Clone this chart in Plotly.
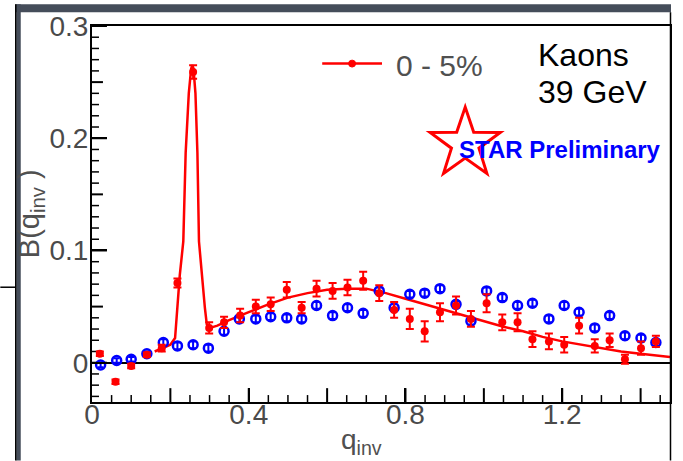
import math
import plotly.graph_objects as go

# ---- data -------------------------------------------------------------
# 0-5% centrality, kaons at 39 GeV
red_q = [0.020, 0.060, 0.100, 0.140, 0.178, 0.218, 0.258, 0.299, 0.337, 0.378,
         0.418, 0.456, 0.497, 0.535, 0.573, 0.614, 0.652, 0.692, 0.733, 0.771,
         0.811, 0.849, 0.888, 0.929, 0.967, 1.007, 1.047, 1.086, 1.124, 1.166,
         1.205, 1.243, 1.283, 1.321, 1.360, 1.401, 1.439]
red_b = [0.008, -0.017, -0.003, 0.007, 0.013, 0.071, 0.259, 0.031, 0.036, 0.042,
         0.050, 0.052, 0.065, 0.049, 0.066, 0.064, 0.067, 0.073, 0.062, 0.047,
         0.039, 0.028, 0.045, 0.051, 0.039, 0.053, 0.036, 0.036, 0.021, 0.019,
         0.016, 0.033, 0.015, 0.020, 0.003, 0.013, 0.019]
red_err = [0.002, 0.002, 0.002, 0.002, 0.003, 0.004, 0.006, 0.005, 0.005, 0.006,
           0.006, 0.006, 0.007, 0.005, 0.007, 0.007, 0.007, 0.008, 0.007, 0.007,
           0.009, 0.009, 0.008, 0.008, 0.007, 0.008, 0.007, 0.008, 0.007, 0.007,
           0.007, 0.007, 0.006, 0.006, 0.004, 0.006, 0.005]

blue_q = [0.022, 0.063, 0.100, 0.140, 0.182, 0.218, 0.258, 0.297, 0.337, 0.376,
          0.418, 0.456, 0.497, 0.535, 0.573, 0.614, 0.652, 0.692, 0.733, 0.771,
          0.811, 0.849, 0.888, 0.929, 0.967, 1.007, 1.047, 1.086, 1.124, 1.166,
          1.205, 1.243, 1.283, 1.321, 1.360, 1.401, 1.439]
blue_b = [-0.002, 0.002, 0.003, 0.008, 0.018, 0.015, 0.016, 0.013, 0.028, 0.039,
          0.039, 0.041, 0.040, 0.039, 0.051, 0.042, 0.049, 0.044, 0.064, 0.049,
          0.061, 0.062, 0.066, 0.052, 0.037, 0.064, 0.058, 0.051, 0.053, 0.039,
          0.051, 0.045, 0.031, 0.042, 0.024, 0.022, 0.018]
blue_err = [0.002, 0.002, 0.002, 0.002, 0.003, 0.003, 0.003, 0.003, 0.003, 0.003,
            0.003, 0.003, 0.003, 0.003, 0.003, 0.003, 0.003, 0.003, 0.003, 0.003,
            0.003, 0.003, 0.003, 0.003, 0.003, 0.003, 0.003, 0.003, 0.003, 0.003,
            0.003, 0.003, 0.003, 0.003, 0.003, 0.003, 0.003]

# fit curve for the 0-5% data
fit_q = [0.160, 0.180, 0.200, 0.212, 0.218, 0.224, 0.233, 0.239, 0.247, 0.253,
         0.256, 0.259, 0.264, 0.269, 0.273, 0.280, 0.288, 0.293, 0.301, 0.320,
         0.350, 0.400, 0.450, 0.500, 0.550, 0.600, 0.650, 0.700, 0.750, 0.800,
         0.850, 0.900, 0.950, 1.000, 1.050, 1.100, 1.150, 1.200, 1.250, 1.300,
         1.350, 1.400, 1.475]
fit_b = [0.010, 0.013, 0.016, 0.022, 0.049, 0.078, 0.108, 0.187, 0.240, 0.262,
         0.265, 0.262, 0.240, 0.187, 0.108, 0.078, 0.049, 0.034, 0.031, 0.033,
         0.038, 0.045, 0.052, 0.058, 0.062, 0.065, 0.066, 0.066, 0.062, 0.057,
         0.052, 0.047, 0.042, 0.037, 0.032, 0.028, 0.023, 0.019, 0.016, 0.013,
         0.010, 0.008, 0.005]

# labelled ticks
y_tickvals = [0.0, 0.1, 0.2, 0.3]
y_ticktext = ["0", "0.1", "0.2", "0.3"]
x_tickvals = [0.0, 0.4, 0.8, 1.2]
x_ticktext = ["0", "0.4", "0.8", "1.2"]
# tick marks drawn inside the frame
y_major_ticks = [0.0, 0.1, 0.2, 0.3]
y_mid_ticks = [0.05, 0.15, 0.25]
y_minor_ticks = [k / 100 for k in range(-3, 31) if k % 5 != 0]
x_major_ticks = [0.2, 0.4, 0.6, 0.8, 1.0, 1.2, 1.4]
x_minor_ticks = [k / 20 for k in range(1, 30) if k % 4 != 0]

X_RANGE = [0, 1.475]
Y_RANGE = [-0.035, 0.3]

# ---- page geometry (pixels) -------------------------------------------
W, H = 683, 461
PL, PR, PT, PB = 92, 672, 22, 402   # plot frame edges
X_PER_PX = (X_RANGE[1] - X_RANGE[0]) / (PR - PL)
Y_PER_PX = (Y_RANGE[1] - Y_RANGE[0]) / (PB - PT)


def px(x):
    return (x - PL) / (PR - PL)


def py(y):
    return (PB - y) / (PB - PT)


FONT = "Liberation Sans, Arial, Helvetica, sans-serif"
RED = "#ff0000"
BLUE = "#0000ff"

fig = go.Figure()


def y_tick_trace(vals, length_px, width):
    xs, ys = [], []
    for v in vals:
        xs += [X_RANGE[0], X_RANGE[0] + length_px * X_PER_PX, None]
        ys += [v, v, None]
    return go.Scatter(x=xs, y=ys, mode="lines", line=dict(color="black", width=width),
                      connectgaps=False, hoverinfo="skip", showlegend=False)


def x_tick_trace(vals, length_px, width):
    xs, ys = [], []
    for v in vals:
        xs += [v, v, None]
        ys += [Y_RANGE[0], Y_RANGE[0] + length_px * Y_PER_PX, None]
    return go.Scatter(x=xs, y=ys, mode="lines", line=dict(color="black", width=width),
                      connectgaps=False, hoverinfo="skip", showlegend=False)


fig.add_trace(y_tick_trace(y_major_ticks, 15, 2))
fig.add_trace(y_tick_trace(y_mid_ticks, 11, 2))
fig.add_trace(y_tick_trace(y_minor_ticks, 7, 1.5))
fig.add_trace(x_tick_trace(x_major_ticks, 14, 2))
fig.add_trace(x_tick_trace(x_minor_ticks, 7, 1.5))

fig.add_trace(go.Scatter(
    x=fit_q, y=fit_b, mode="lines",
    line=dict(color=RED, width=2.5), hoverinfo="skip", showlegend=False))

fig.add_trace(go.Scatter(
    x=blue_q, y=blue_b, mode="markers",
    marker=dict(symbol="circle-open", size=9, color=BLUE, line=dict(width=2.5, color=BLUE)),
    error_y=dict(type="data", array=blue_err, color=BLUE, thickness=2, width=3),
    showlegend=False))

fig.add_trace(go.Scatter(
    x=red_q, y=red_b, mode="markers",
    marker=dict(symbol="circle", size=8, color=RED),
    error_y=dict(type="data", array=red_err, color=RED, thickness=2, width=4),
    showlegend=False))

tickfont = dict(family=FONT, size=28, color="#4a4a4a")
frame = dict(showline=True, mirror=True, linecolor="black", linewidth=2, showgrid=False,
             ticks="inside", tickcolor="black", tickwidth=2)

fig.update_layout(
    xaxis=dict(range=X_RANGE, tickmode="array", tickvals=x_tickvals, ticktext=x_ticktext,
               ticklen=14, ticklabelstandoff=-14, zeroline=False, tickfont=tickfont,
               **frame),
    yaxis=dict(range=Y_RANGE, tickmode="array", tickvals=y_tickvals, ticktext=y_ticktext,
               ticklen=15, ticklabelstandoff=-4, tickfont=tickfont,
               zeroline=True, zerolinecolor="black", zerolinewidth=2, **frame),
)

# ---- surrounding slide frame ---------------------------------------------
shapes = []
dark = "#454d5a"
shapes.append(dict(type="rect", xref="paper", yref="paper", layer="below",
                   x0=px(15), x1=px(673), y0=py(0), y1=py(8),
                   fillcolor=dark, line=dict(width=0)))
shapes.append(dict(type="rect", xref="paper", yref="paper", layer="below",
                   x0=px(16), x1=px(20.5), y0=py(0), y1=py(H),
                   fillcolor=dark, line=dict(width=0)))
shapes.append(dict(type="line", xref="paper", yref="paper",
                   x0=px(15.5), x1=px(15.5), y0=py(0), y1=py(H),
                   line=dict(color="black", width=1.5)))
shapes.append(dict(type="line", xref="paper", yref="paper",
                   x0=px(0), x1=px(15.5), y0=py(286), y1=py(286),
                   line=dict(color="black", width=1.5)))
shapes.append(dict(type="line", xref="paper", yref="paper",
                   x0=px(672.5), x1=px(672.5), y0=py(8), y1=py(H),
                   line=dict(color="black", width=1.5)))

# legend sample: line with a dot
shapes.append(dict(type="line", xref="paper", yref="paper",
                   x0=px(323), x1=px(383), y0=py(60), y1=py(60),
                   line=dict(color=RED, width=2.5)))
shapes.append(dict(type="circle", xref="paper", yref="paper",
                   x0=px(349.5), x1=px(356.5), y0=py(56.5), y1=py(63.5),
                   fillcolor=RED, line=dict(color=RED, width=1)))

# STAR logo star outline
cx, cy, ro, ri = 466.5, 141.0, 37.0, 14.5
pts = []
for k in range(10):
    ang = math.pi / 2 + k * math.pi / 5
    r = ro if k % 2 == 0 else ri
    pts.append((px(cx + r * math.cos(ang)), py(cy - r * math.sin(ang))))
path = "M " + " L ".join(f"{a:.5f},{b:.5f}" for a, b in pts) + " Z"
shapes.append(dict(type="path", xref="paper", yref="paper", path=path,
                   fillcolor="white", line=dict(color=RED, width=3)))


def note(x, y, text, size, color, **kw):
    d = dict(xref="paper", yref="paper", x=px(x), y=py(y), text=text,
             showarrow=False, xanchor="left", yanchor="middle",
             font=dict(family=FONT, size=size, color=color))
    d.update(kw)
    return d


annotations = [
    note(395, 62, "0 - 5%", 30, "#505050"),
    note(538, 51, "Kaons", 32, "black"),
    note(538, 89, "39 GeV", 32, "black"),
    note(458, 147, "<b>STAR Preliminary</b>", 24, BLUE),
    note(31, 212, "B(q<sub>inv</sub> )", 29, "#505050", textangle=-90, xanchor="center"),
    note(362, 442, "q<sub>inv</sub>", 28, "#505050", xanchor="center"),
]

fig.update_layout(
    width=W, height=H,
    margin=dict(l=PL, r=W - PR, t=PT, b=H - PB, pad=0),
    paper_bgcolor="white", plot_bgcolor="white",
    shapes=shapes, annotations=annotations, showlegend=False,
)

fig.write_html("out.html")
